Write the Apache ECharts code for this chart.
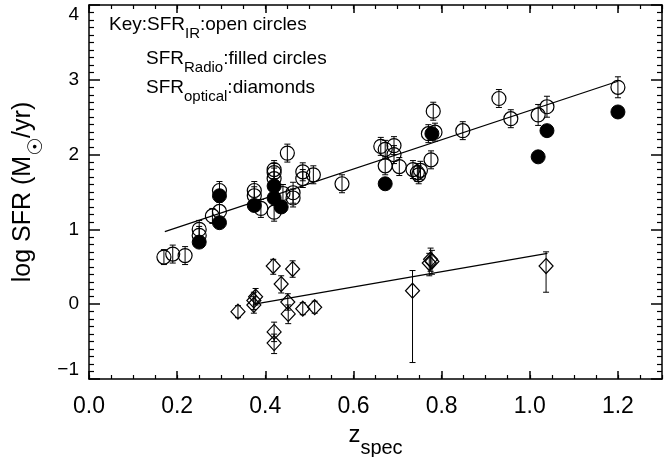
<!DOCTYPE html>
<html lang="en">
<head>
    <meta charset="UTF-8">
    <title>SFR vs z</title>
    <script src="https://cdn.jsdelivr.net/npm/echarts@6/dist/echarts.min.js"></script>
    <style>
        html, body { margin: 0; padding: 0; background: #fff; }
        #main { width: 671px; height: 457px; }
    </style>
</head>
<body>
<div id="main"></div>
<script>
// 数据
// SFR_IR: open circles
var irZ   = [0.170, 0.190, 0.218, 0.250, 0.250, 0.296, 0.296, 0.280, 0.375, 0.375, 0.390,
             0.420, 0.420, 0.420, 0.420, 0.440, 0.463, 0.463, 0.450, 0.485, 0.485, 0.509,
             0.574, 0.662, 0.672, 0.692, 0.692, 0.672, 0.704, 0.735, 0.745, 0.752, 0.748,
             0.776, 0.781, 0.770, 0.785, 0.848, 0.930, 0.957, 1.019, 1.039, 1.200];
var irV   = [0.63, 0.67, 0.65, 1.00, 0.92, 1.52, 1.24, 1.18, 1.52, 1.45, 1.28,
             1.80, 1.76, 1.68, 1.23, 1.48, 1.49, 1.42, 2.02, 1.77, 1.68, 1.73,
             1.61, 2.11, 2.07, 2.12, 2.00, 1.85, 1.84, 1.80, 1.76, 1.79, 1.73,
             1.93, 2.58, 2.28, 2.30, 2.32, 2.75, 2.48, 2.53, 2.64, 2.90];
var irErr = [0.10, 0.12, 0.12, 0.12, 0.12, 0.12, 0.12, 0.10, 0.12, 0.12, 0.12,
             0.12, 0.12, 0.14, 0.12, 0.12, 0.14, 0.12, 0.12, 0.12, 0.12, 0.12,
             0.12, 0.12, 0.12, 0.12, 0.12, 0.12, 0.12, 0.12, 0.12, 0.12, 0.12,
             0.12, 0.12, 0.12, 0.12, 0.12, 0.12, 0.12, 0.14, 0.14, 0.14];

// SFR_Radio: filled circles
var radioZ = [0.250, 0.296, 0.296, 0.375, 0.420, 0.420, 0.436, 0.672, 0.778, 1.019, 1.039, 1.200];
var radioV = [0.83, 1.45, 1.09, 1.32, 1.58, 1.42, 1.30, 1.61, 2.28, 1.97, 2.32, 2.57];

// SFR_optical: diamonds
var optZ  = [0.418, 0.462, 0.436, 0.378, 0.374, 0.374, 0.338, 0.451, 0.452, 0.485, 0.512,
             0.420, 0.420, 0.734, 0.772, 0.775, 0.778, 1.037];
var optV  = [0.51, 0.47, 0.27, 0.10, 0.05, -0.01, -0.10, 0.03, -0.13, -0.06, -0.04,
             -0.37, -0.52, 0.18, 0.55, 0.60, 0.57, 0.51];
var optLo = [0.40, 0.36, 0.15, -0.01, -0.07, -0.12, -0.18, -0.08, -0.26, -0.14, -0.12,
             -0.50, -0.66, -0.78, 0.38, 0.44, 0.40, 0.16];
var optHi = [0.60, 0.58, 0.38, 0.21, 0.16, 0.10, -0.02, 0.14, -0.01, 0.02, 0.04,
             -0.24, -0.40, 0.45, 0.68, 0.75, 0.72, 0.70];

// 拟合直线
var fitUpZ = [0.172, 1.200];
var fitUpV = [0.97, 2.98];
var fitLoZ = [0.375, 1.040];
var fitLoV = [0.00, 0.68];

// 刻度
var xMajor = [0.0, 0.2, 0.4, 0.6, 0.8, 1.0, 1.2];

var FONT = 'Liberation Sans';

function pairs(xs, ys) {
  var out = [];
  for (var i = 0; i < xs.length; i++) out.push([xs[i], ys[i]]);
  return out;
}
var irErrData = [];
for (var i = 0; i < irZ.length; i++) irErrData.push([irZ[i], irV[i] - irErr[i], irV[i] + irErr[i]]);
var optErrData = [];
for (var j = 0; j < optZ.length; j++) optErrData.push([optZ[j], optLo[j], optHi[j]]);

function renderErr(params, api) {
  var x = api.value(0);
  var p1 = api.coord([x, api.value(1)]);
  var p2 = api.coord([x, api.value(2)]);
  var w = 3;
  var st = { stroke: '#000', lineWidth: 1 };
  return {
    type: 'group',
    children: [
      { type: 'line', shape: { x1: p1[0], y1: p1[1], x2: p2[0], y2: p2[1] }, style: st },
      { type: 'line', shape: { x1: p1[0] - w, y1: p1[1], x2: p1[0] + w, y2: p1[1] }, style: st },
      { type: 'line', shape: { x1: p2[0] - w, y1: p2[1], x2: p2[0] + w, y2: p2[1] }, style: st }
    ]
  };
}

// 坐标轴: 主刻度 + 副刻度, 四边向内
function xAxisOpt(pos, interval, len, w, withLine) {
  return {
    type: 'value', position: pos, min: 0, max: 1.3, interval: interval,
    axisLine: { show: withLine, onZero: false, lineStyle: { color: '#000', width: 1.5 } },
    axisTick: { show: true, inside: true, length: len, lineStyle: { color: '#000', width: w } },
    axisLabel: { show: false }, splitLine: { show: false }
  };
}
function yAxisOpt(pos) {
  return {
    type: 'value', position: pos, min: -1, max: 4, interval: 1,
    axisLine: { show: true, onZero: false, lineStyle: { color: '#000', width: 1.5 } },
    axisTick: { show: true, inside: true, length: 11, lineStyle: { color: '#000', width: 1.5 } },
    minorTick: { show: true, splitNumber: 10, length: 5, lineStyle: { color: '#000', width: 1.2 } },
    axisLabel: { show: false }, splitLine: { show: false }
  };
}

var bottomAxis = xAxisOpt('bottom', 0.2, 8, 1.5, true);
bottomAxis.axisLabel = {
  show: true, showMaxLabel: false, color: '#000', fontFamily: FONT, fontSize: 23, margin: 16,
  formatter: function (v) { return xMajor.indexOf(Math.round(v * 10) / 10) >= 0 ? v.toFixed(1) : ''; }
};
bottomAxis.name = '{m|z}{s|spec}';
bottomAxis.nameLocation = 'middle';
bottomAxis.nameGap = 41;
bottomAxis.nameTextStyle = {
  rich: {
    m: { fontFamily: FONT, fontSize: 24, color: '#000', lineHeight: 36, verticalAlign: 'top' },
    s: { fontFamily: FONT, fontSize: 20, color: '#000', lineHeight: 24, verticalAlign: 'bottom' }
  }
};

var leftAxis = yAxisOpt('left');
leftAxis.axisLabel = {
  show: true, color: '#000', fontFamily: FONT, fontSize: 19, margin: 10,
  verticalAlignMaxLabel: 'top', verticalAlignMinLabel: 'bottom',
  formatter: function (v) { return v < 0 ? '\u2212' + Math.abs(v) : String(v); }
};
leftAxis.name = '{m|log SFR (M}{s|\u2609}{m|/yr)}';
leftAxis.nameLocation = 'middle';
leftAxis.nameGap = 40;
leftAxis.nameRotate = 90;
leftAxis.nameTextStyle = {
  rich: {
    m: { fontFamily: FONT, fontSize: 25, color: '#000', lineHeight: 36, verticalAlign: 'top' },
    s: { fontFamily: 'DejaVu Sans', fontSize: 20, color: '#000', lineHeight: 24, verticalAlign: 'bottom' }
  }
};

var richKey = {
  m: { fontFamily: FONT, fontSize: 19, fill: '#000', lineHeight: 26, verticalAlign: 'top' },
  s: { fontFamily: FONT, fontSize: 15, fill: '#000', lineHeight: 15, verticalAlign: 'bottom' }
};

var myChart = echarts.init(document.getElementById('main'));
var option = {
  animation: false,
  grid: { left: 89, right: 9, top: 5, bottom: 78, outerBoundsMode: 'none' },
  xAxis: [
    bottomAxis,
    xAxisOpt('bottom', 0.05, 4, 1.2, false),
    xAxisOpt('top', 0.2, 8, 1.5, true),
    xAxisOpt('top', 0.05, 4, 1.2, false)
  ],
  yAxis: [leftAxis, yAxisOpt('right')],
  graphic: [
    { type: 'text', left: 109, top: 15, style: { rich: richKey, text: '{m|Key:SFR}{s|IR}{m|:open circles}' } },
    { type: 'text', left: 146, top: 49, style: { rich: richKey, text: '{m|SFR}{s|Radio}{m|:filled circles}' } },
    { type: 'text', left: 146, top: 78, style: { rich: richKey, text: '{m|SFR}{s|optical}{m|:diamonds}' } }
  ],
  series: [
    {
      type: 'line', data: pairs(fitUpZ, fitUpV), symbol: 'none',
      lineStyle: { color: '#000', width: 1.2 }, z: 2
    },
    {
      type: 'line', data: pairs(fitLoZ, fitLoV), symbol: 'none',
      lineStyle: { color: '#000', width: 1.2 }, z: 2
    },
    { type: 'custom', renderItem: renderErr, data: irErrData, z: 3 },
    { type: 'custom', renderItem: renderErr, data: optErrData, z: 3 },
    {
      name: 'SFR IR', type: 'scatter', data: pairs(irZ, irV), symbol: 'circle', symbolSize: 14,
      itemStyle: { color: 'rgba(0,0,0,0)', borderColor: '#000', borderWidth: 1.2, opacity: 1 }, z: 4
    },
    {
      name: 'SFR Radio', type: 'scatter', data: pairs(radioZ, radioV), symbol: 'circle', symbolSize: 14,
      itemStyle: { color: '#000', borderColor: '#000', borderWidth: 1, opacity: 1 }, z: 5
    },
    {
      name: 'SFR optical', type: 'scatter', data: pairs(optZ, optV), symbol: 'diamond', symbolSize: [14, 15],
      itemStyle: { color: 'rgba(0,0,0,0)', borderColor: '#000', borderWidth: 1.2, opacity: 1 }, z: 4
    }
  ]
};
myChart.setOption(option);
</script>
</body>
</html>
